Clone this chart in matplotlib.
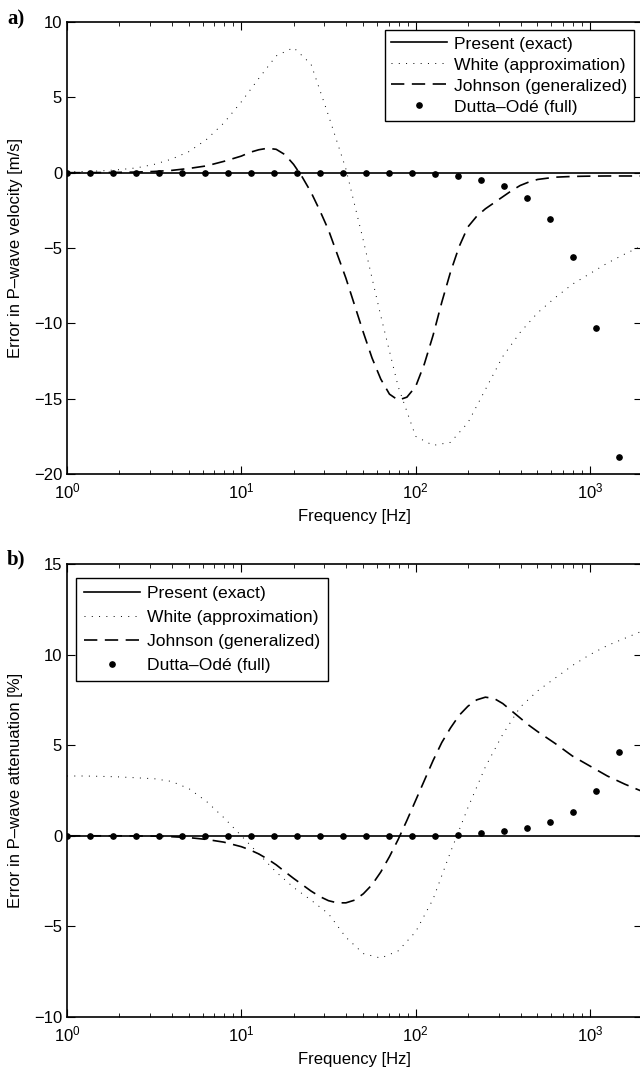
import matplotlib
matplotlib.use("Agg")
import matplotlib.pyplot as plt
import numpy as np

plt.rcParams['font.family'] = ['Liberation Sans', 'DejaVu Sans']
plt.rcParams['mathtext.fontset'] = 'custom'
plt.rcParams['mathtext.rm'] = 'Liberation Sans'
plt.rcParams['mathtext.it'] = 'Liberation Sans'

# ---------------- data ----------------
# White curves: frequency grid [Hz] (0.1-decade steps)
freq_w = [1.0, 1.259, 1.585, 1.995, 2.512, 3.162, 3.981, 5.012, 6.310, 7.943,
          10.0, 12.59, 15.85, 19.95, 25.12, 31.62, 39.81, 50.12, 63.10, 79.43,
          100.0, 125.9, 158.5, 199.5, 251.2, 316.2, 398.1, 501.2, 631.0, 794.3,
          1000.0, 1259.0, 1585.0, 1995.0]

# Johnson curves: frequency grid [Hz] (finer around the features)
freq_j = [1.0, 1.259, 1.585, 1.995, 2.512, 3.162, 3.981, 5.012, 6.310, 7.943,
          10.0, 11.22, 12.59, 14.13, 15.85, 17.78, 19.95, 22.39, 25.12, 28.18,
          31.62, 35.48, 39.81, 44.67, 50.12, 56.23, 63.10, 70.79, 79.43, 89.13,
          100.0, 112.2, 125.9, 141.3, 158.5, 177.8, 199.5, 223.9, 251.2, 281.8,
          316.2, 354.8, 398.1, 446.7, 501.2, 631.0, 794.3, 1000.0, 1259.0, 1585.0,
          1995.0]

# panel a: error in P-wave velocity [m/s]
white_a = [0.05, 0.08, 0.12, 0.20, 0.32, 0.55, 0.90, 1.40, 2.20, 3.30,
           4.70, 6.25, 7.75, 8.30, 7.20, 3.80, 0.25, -4.50, -9.50, -14.20,
           -17.50, -18.10, -17.90, -16.60, -14.40, -12.20, -10.60, -9.30, -8.30, -7.40,
           -6.70, -6.00, -5.40, -4.85]
johnson_a = [0.0, 0.0, 0.01, 0.02, 0.04, 0.08, 0.15, 0.28, 0.45, 0.75,
             1.10, 1.35, 1.52, 1.62, 1.55, 1.20, 0.55, -0.30, -1.30, -2.50,
             -3.80, -5.40, -7.00, -8.80, -10.60, -12.30, -13.70, -14.70, -15.10, -14.90,
             -14.20, -12.70, -10.80, -8.60, -6.60, -4.90, -3.60, -2.90, -2.40, -2.00,
             -1.60, -1.20, -0.85, -0.62, -0.45, -0.30, -0.25, -0.23, -0.22, -0.22,
             -0.22]

# panel b: error in P-wave attenuation [%]
white_b = [3.30, 3.30, 3.28, 3.25, 3.20, 3.15, 3.00, 2.60, 1.90, 1.00,
           0.00, -1.00, -2.00, -2.85, -3.55, -4.30, -5.60, -6.50, -6.75, -6.35,
           -5.30, -3.50, -0.90, 1.55, 3.80, 5.60, 7.10, 8.00, 8.70, 9.40,
           10.00, 10.50, 10.90, 11.30]
johnson_b = [0.0, 0.0, 0.0, 0.0, -0.01, -0.02, -0.05, -0.10, -0.20, -0.35,
             -0.60, -0.78, -1.00, -1.28, -1.60, -1.98, -2.35, -2.70, -3.05, -3.35,
             -3.58, -3.70, -3.70, -3.55, -3.20, -2.70, -2.00, -1.15, -0.20, 0.85,
             1.95, 3.05, 4.15, 5.15, 5.95, 6.65, 7.15, 7.50, 7.65, 7.58,
             7.30, 6.90, 6.50, 6.10, 5.75, 5.10, 4.40, 3.85, 3.30, 2.85,
             2.45]

# Dutta-Ode sample frequencies [Hz]
freq_do = [1.0, 1.355, 1.837, 2.489, 3.373, 4.571, 6.194, 8.393, 11.37, 15.41,
           20.89, 28.30, 38.35, 51.97, 70.43, 95.44, 129.3, 175.3, 237.5, 321.8,
           436.1, 591.0, 800.8, 1085.0, 1471.0]
dutta_a = [0.0, 0.0, 0.0, 0.0, 0.0, 0.0, 0.0, 0.0, 0.0, 0.0,
           0.0, 0.0, 0.0, 0.0, 0.0, -0.04, -0.11, -0.24, -0.50, -0.90,
           -1.70, -3.10, -5.60, -10.30, -18.90]
dutta_b = [0.0, 0.0, 0.0, 0.0, 0.0, 0.0, 0.0, 0.0, 0.0, 0.0,
           0.0, 0.0, 0.0, 0.0, 0.0, 0.0, 0.0, 0.05, 0.17, 0.28,
           0.44, 0.77, 1.33, 2.49, 4.64]

labels = ['Present (exact)', 'White (approximation)',
          'Johnson (generalized)', 'Dutta\u2013Odé (full)']

# ---------------- figure ----------------
W, H = 640, 1072
fig = plt.figure(figsize=(W / 100, H / 100), dpi=100)

def axpos(x0, x1, ytop, ybot):
    return [x0 / W, 1 - ybot / H, (x1 - x0) / W, (ybot - ytop) / H]

FS = 12
LFS = 12.6

def make_panel(rect, white, johnson, dutta, ylim, yticks, ylabel, leg_loc,
               leg_anchor, lspace, bpad, tag, tag_y):
    ax = fig.add_axes(rect)
    ax.set_xscale('log')
    ax.axhline(0, color='black', lw=1.2, zorder=3, label=labels[0])
    ax.plot(freq_w, white, color='black', lw=0.7, linestyle=(0, (1, 6.5)), label=labels[1])
    ax.plot(freq_j, johnson, color='black', lw=1.2, linestyle=(0, (8, 4.5)), label=labels[2])
    ax.plot(freq_do, dutta, linestyle='none', marker='o', ms=3.8, color='black',
            label=labels[3], zorder=4)
    ax.set_xlim(1, 2000)
    ax.set_ylim(*ylim)
    ax.set_yticks(yticks)
    ax.tick_params(which='both', direction='in', top=True, right=True, labelsize=FS)
    ax.tick_params(which='major', length=5.5, width=0.8)
    ax.tick_params(which='minor', length=3, width=0.6)
    ax.tick_params(axis='x', which='major', pad=5.5)
    for s in ax.spines.values():
        s.set_linewidth(1.2)
    ax.set_xlabel('Frequency [Hz]', fontsize=FS)
    ax.set_ylabel(ylabel, fontsize=FS)
    ax.xaxis.set_label_coords(0.5, -0.078)
    ax.yaxis.set_label_coords(-0.077, 0.5)
    leg = ax.legend(loc=leg_loc, bbox_to_anchor=leg_anchor, borderaxespad=0,
                    fontsize=LFS, frameon=True, fancybox=False, framealpha=1,
                    edgecolor='black', handlelength=3.2, labelspacing=lspace,
                    handletextpad=0.4, borderpad=bpad)
    leg.get_frame().set_linewidth(1.0)
    fig.text(7 / W, 1 - tag_y / H, tag, fontsize=15, fontweight='bold',
             family=['Liberation Serif', 'DejaVu Serif'], va='center', ha='left')
    return ax

make_panel(axpos(67, 642.4, 22, 474), white_a, johnson_a, dutta_a, (-20, 10),
           [-20, -15, -10, -5, 0, 5, 10], 'Error in P\u2013wave velocity [m/s]',
           'upper right', (0.985, 0.982), 0.33, 0.35, 'a)', 19)
make_panel(axpos(67, 642.4, 564, 1017), white_b, johnson_b, dutta_b, (-10, 15),
           [-10, -5, 0, 5, 10, 15], 'Error in P\u2013wave attenuation [%]',
           'upper left', (0.0156, 0.969), 0.5, 0.45, 'b)', 559)

fig.savefig('out.png', dpi=100)
